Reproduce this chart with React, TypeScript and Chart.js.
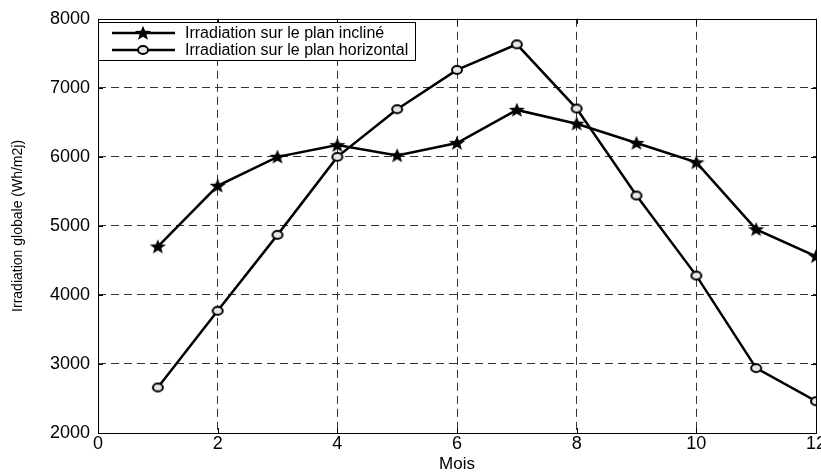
import { useEffect, useRef } from 'react';
import { Chart, registerables } from 'chart.js';

Chart.register(...registerables);

const months = [1, 2, 3, 4, 5, 6, 7, 8, 9, 10, 11, 12];
const inclined = [4700, 5580, 6000, 6170, 6020, 6200, 6680, 6480, 6200, 5920, 4950, 4560];
const horizontal = [2660, 3770, 4870, 6000, 6690, 7260, 7630, 6700, 5440, 4280, 2940, 2460];
const seriesLabels = ['Irradiation sur le plan incliné', 'Irradiation sur le plan horizontal'];
const xTitle = 'Mois';
const yTitle = 'Irradiation globale (Wh/m2j)';
const xMin = 0, xMax = 12, xStep = 2;
const yMin = 2000, yMax = 8000, yStep = 1000;

const FONT = '"Liberation Sans", Arial, sans-serif';

function makeStar(): HTMLCanvasElement {
  const c = document.createElement('canvas');
  c.width = 18; c.height = 16;
  const g = c.getContext('2d')!;
  const cx = 9, cy = 8.5, rx = 8.5, ry = 7.8, inner = 0.42;
  g.beginPath();
  for (let i = 0; i < 10; i++) {
    const a = -Math.PI / 2 + (i * Math.PI) / 5;
    const r = i % 2 === 0 ? 1 : inner;
    const px = cx + Math.cos(a) * rx * r;
    const py = cy + Math.sin(a) * ry * r;
    if (i === 0) g.moveTo(px, py); else g.lineTo(px, py);
  }
  g.closePath();
  g.fillStyle = '#000';
  g.fill();
  return c;
}

function makeCircle(): HTMLCanvasElement {
  const c = document.createElement('canvas');
  c.width = 14; c.height = 12;
  const g = c.getContext('2d')!;
  g.beginPath();
  g.ellipse(7, 6, 5, 4, 0, 0, Math.PI * 2);
  g.fillStyle = '#e8e8e8';
  g.fill();
  g.lineWidth = 2;
  g.strokeStyle = '#000';
  g.stroke();
  return c;
}

export default function App() {
  const ref = useRef<HTMLCanvasElement | null>(null);

  useEffect(() => {
    if (!ref.current) return;
    const star = makeStar();
    const circle = makeCircle();

    const framePlugin = {
      id: 'frame',
      beforeDatasetsDraw(chart: any) {
        const { ctx, chartArea: a, scales } = chart;
        ctx.save();
        ctx.strokeStyle = '#000';
        ctx.lineWidth = 1;
        ctx.setLineDash([]);
        ctx.strokeRect(Math.round(a.left) + 0.5, Math.round(a.top) + 0.5, Math.round(a.right - a.left), Math.round(a.bottom - a.top));
        const tl = 5;
        ctx.beginPath();
        scales.x.ticks.forEach((t: any) => {
          const px = Math.round(scales.x.getPixelForValue(t.value)) + 0.5;
          ctx.moveTo(px, a.bottom); ctx.lineTo(px, a.bottom - tl);
          ctx.moveTo(px, a.top); ctx.lineTo(px, a.top + tl);
        });
        scales.y.ticks.forEach((t: any) => {
          const py = Math.round(scales.y.getPixelForValue(t.value)) + 0.5;
          ctx.moveTo(a.left, py); ctx.lineTo(a.left + tl, py);
          ctx.moveTo(a.right, py); ctx.lineTo(a.right - tl, py);
        });
        ctx.stroke();
        ctx.restore();
      },
    };

    const legendPlugin = {
      id: 'innerLegend',
      afterDatasetsDraw(chart: any) {
        const { ctx, chartArea: a } = chart;
        const left = Math.round(a.left) + 0.5;
        const top = 22.5;
        const right = 415.5;
        const bottom = 60.5;
        ctx.save();
        ctx.fillStyle = '#fff';
        ctx.fillRect(left, top, right - left, bottom - top);
        ctx.strokeStyle = '#000';
        ctx.lineWidth = 1;
        ctx.strokeRect(left, top, right - left, bottom - top);
        const rows = [33, 50];
        const imgs = [star, circle];
        rows.forEach((y, i) => {
          ctx.beginPath();
          ctx.lineWidth = 2.5;
          ctx.moveTo(112, y); ctx.lineTo(175, y);
          ctx.stroke();
          const im = imgs[i];
          ctx.drawImage(im, 143 - im.width / 2, y - im.height / 2);
          ctx.fillStyle = '#000';
          ctx.font = `16px ${FONT}`;
          ctx.textBaseline = 'middle';
          ctx.textAlign = 'left';
          ctx.fillText(seriesLabels[i], 185, y + 1);
        });
        ctx.restore();
      },
    };

    const gridColor = (edgeA: number, edgeB: number) => (c: any) =>
      c.tick && (c.tick.value === edgeA || c.tick.value === edgeB) ? 'rgba(0,0,0,0)' : '#333';

    const chart = new Chart(ref.current, {
      type: 'line',
      data: {
        datasets: [
          {
            label: seriesLabels[0],
            data: months.map((m, i) => ({ x: m, y: inclined[i] })),
            borderColor: '#000',
            borderWidth: 2.5,
            pointStyle: star as any,
            pointRadius: 8,
            tension: 0,
          },
          {
            label: seriesLabels[1],
            data: months.map((m, i) => ({ x: m, y: horizontal[i] })),
            borderColor: '#000',
            borderWidth: 2.5,
            pointStyle: circle as any,
            pointRadius: 6,
            tension: 0,
          },
        ],
      },
      options: {
        animation: false,
        responsive: false,
        devicePixelRatio: 1,
        layout: { padding: { left: 0, right: 24, top: 17, bottom: 0 } },
        plugins: { legend: { display: false }, tooltip: { enabled: false } },
        scales: {
          x: {
            type: 'linear',
            min: xMin,
            max: xMax,
            afterFit: (s: any) => { s.height = 42; },
            ticks: { stepSize: xStep, color: '#000', font: { family: FONT, size: 18 }, padding: 0, maxRotation: 0, callback: (v: any) => String(v) },
            grid: { color: gridColor(xMin, xMax), lineWidth: 1, drawTicks: false },
            border: { display: false, dash: [8, 5] },
            title: { display: true, text: xTitle, color: '#000', font: { family: FONT, size: 17 }, padding: { top: 0, bottom: 0 } },
          },
          y: {
            type: 'linear',
            min: yMin,
            max: yMax,
            afterFit: (s: any) => { s.width = 98; },
            ticks: { stepSize: yStep, color: '#000', font: { family: FONT, size: 18 }, padding: 8, callback: (v: any) => String(v) },
            grid: { color: gridColor(yMin, yMax), lineWidth: 1, drawTicks: false },
            border: { display: false, dash: [8, 5] },
            title: { display: true, text: yTitle, color: '#000', font: { family: FONT, size: 14 }, padding: { top: 10, bottom: 0 } },
          },
        },
      },
      plugins: [framePlugin, legendPlugin],
    });
    return () => chart.destroy();
  }, []);

  return (
    <div style={{ position: 'fixed', left: 0, top: 0, width: 821, height: 475, overflow: 'hidden', background: '#fff' }}>
      <canvas ref={ref} width={840} height={475} style={{ display: 'block' }} />
    </div>
  );
}
